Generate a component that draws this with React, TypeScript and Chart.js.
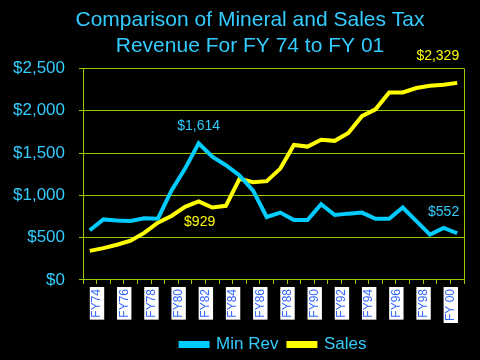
import React, { useEffect, useRef } from 'react';
import { Chart, registerables } from 'chart.js';

Chart.register(...registerables);

const categories = [
  'FY74', 'FY75', 'FY76', 'FY77', 'FY78', 'FY79', 'FY80', 'FY81', 'FY82', 'FY83',
  'FY84', 'FY85', 'FY86', 'FY87', 'FY88', 'FY89', 'FY90', 'FY91', 'FY92', 'FY93',
  'FY94', 'FY95', 'FY96', 'FY97', 'FY98', 'FY99', 'FY 00', 'FY01',
];
const minRev = [588, 716, 704, 696, 728, 724, 1056, 1316, 1614, 1456, 1356, 1236, 1056, 744, 796, 708, 708, 896, 768, 784, 796, 724, 724, 856, 696, 536, 616, 552];
const sales = [344, 376, 416, 464, 556, 676, 756, 864, 929, 856, 876, 1196, 1156, 1168, 1316, 1596, 1576, 1656, 1644, 1736, 1936, 2016, 2216, 2216, 2268, 2296, 2308, 2329];
const seriesNames = ['Min Rev', 'Sales'];
const titleLines = ['Comparison of Mineral and Sales Tax', 'Revenue For FY 74 to FY 01'];
const yMax = 2500;
const yStep = 500;

const CYAN_LINE = '#00CCFF';
const CYAN_TEXT = '#33CCFF';
const YELLOW = '#FFFF00';
const GRID = '#99CC00';
const TICK_BLUE = '#3366FF';
const FONT = "'Liberation Sans', Arial, sans-serif";

const fmt = (v: number) => '$' + v.toLocaleString('en-US');

// point annotations: which dataset / index, and where the text sits relative to the point
const pointLabels = [
  { ds: 0, idx: 8, dx: 0, dy: -17, align: 'center' as CanvasTextAlign, color: CYAN_TEXT },
  { ds: 1, idx: 8, dx: 1, dy: 21, align: 'center' as CanvasTextAlign, color: YELLOW },
  { ds: 1, idx: 27, dx: 2, dy: -27, align: 'right' as CanvasTextAlign, color: YELLOW },
  { ds: 0, idx: 27, dx: 2, dy: -21, align: 'right' as CanvasTextAlign, color: CYAN_TEXT },
];

const pointLabelPlugin = {
  id: 'pointLabels',
  afterDatasetsDraw(chart: any) {
    const ctx = chart.ctx as CanvasRenderingContext2D;
    ctx.save();
    ctx.font = `14px ${FONT}`;
    ctx.textBaseline = 'middle';
    for (const p of pointLabels) {
      const el = chart.getDatasetMeta(p.ds).data[p.idx];
      const v = chart.data.datasets[p.ds].data[p.idx] as number;
      ctx.fillStyle = p.color;
      ctx.textAlign = p.align;
      ctx.fillText(fmt(v), el.x + p.dx, el.y + p.dy);
    }
    ctx.restore();
  },
};

// let the y tick labels use the left padding strip instead of being clipped to the scale box
const yLabelRoom = {
  id: 'yLabelRoom',
  afterLayout(chart: any) {
    chart.scales.y.left = 0;
  },
};

export default function App() {
  const ref = useRef<HTMLCanvasElement>(null);
  useEffect(() => {
    document.body.style.margin = '0';
    document.body.style.background = '#000';
    const chart = new Chart(ref.current!, {
      type: 'line',
      data: {
        labels: categories,
        datasets: [
          {
            label: seriesNames[0],
            data: minRev,
            borderColor: CYAN_LINE,
            backgroundColor: CYAN_LINE,
            borderWidth: 4,
            pointRadius: 0,
            tension: 0,
          },
          {
            label: seriesNames[1],
            data: sales,
            borderColor: YELLOW,
            backgroundColor: YELLOW,
            borderWidth: 4,
            pointRadius: 0,
            tension: 0,
          },
        ],
      },
      options: {
        responsive: false,
        animation: false,
        layout: { padding: { left: 36, right: 16, top: 0, bottom: -3 } },
        plugins: {
          title: {
            display: true,
            text: titleLines,
            color: CYAN_TEXT,
            font: { family: FONT, size: 21, weight: 'normal', lineHeight: 1.2 },
            padding: { top: 8, bottom: 10 },
          },
          legend: {
            position: 'bottom',
            fullSize: false,
            labels: {
              color: CYAN_TEXT,
              font: { family: FONT, size: 17 },
              boxWidth: 27,
              boxHeight: 3,
              padding: 10,
            },
          },
          tooltip: { enabled: false },
        },
        scales: {
          x: {
            type: 'category',
            offset: true,
            grid: {
              offset: true,
              drawOnChartArea: true,
              color: (ctx: any) => (ctx.type === 'tick' ? 'rgba(0,0,0,0)' : GRID),
              tickColor: GRID,
              tickLength: 4,
            },
            border: { display: true, color: GRID },
            ticks: {
              autoSkip: false,
              minRotation: 90,
              maxRotation: 90,
              color: TICK_BLUE,
              font: { family: FONT, size: 12 },
              padding: 5,
              showLabelBackdrop: true,
              backdropColor: (ctx: any) => (ctx.index % 2 === 0 ? '#FFFFFF' : 'rgba(0,0,0,0)'),
              backdropPadding: { left: 2, right: 2, top: 0, bottom: 0 },
              callback: (_v: any, i: number) => (i % 2 === 0 ? categories[i] : ''),
            },
          },
          y: {
            min: 0,
            max: yMax,
            afterFit: (scale: any) => {
              scale.width = 47;
            },
            grid: { color: GRID, tickColor: GRID, tickLength: 4 },
            border: { display: true, color: GRID },
            ticks: {
              stepSize: yStep,
              color: CYAN_TEXT,
              font: { family: FONT, size: 17 },
              padding: 14,
              callback: (v: any) => fmt(Number(v)),
            },
          },
        },
      },
      plugins: [pointLabelPlugin, yLabelRoom],
    });
    return () => chart.destroy();
  }, []);
  return (
    <div style={{ width: 480, height: 360, background: '#000' }}>
      <canvas ref={ref} width={480} height={360} style={{ display: 'block' }} />
    </div>
  );
}
